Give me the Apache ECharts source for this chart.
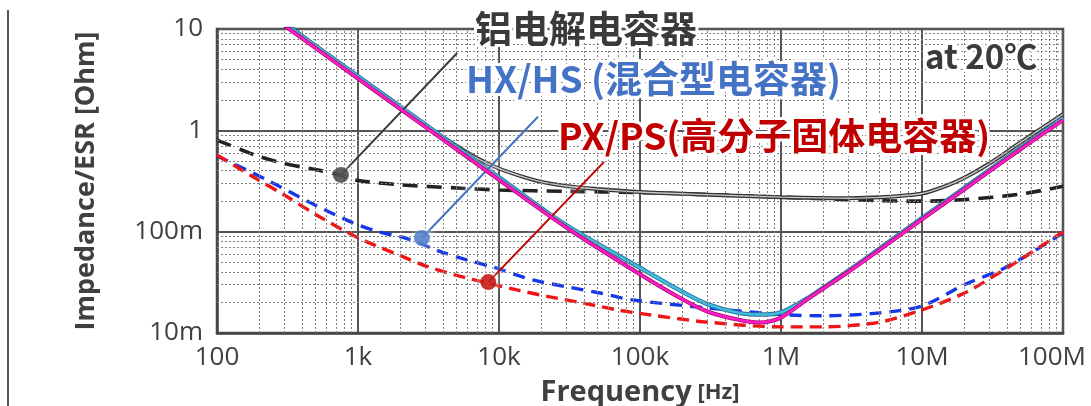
<!DOCTYPE html>
<html>
<head>
<meta charset="utf-8">
<script src="https://cdn.jsdelivr.net/npm/echarts@6/dist/echarts.min.js"></script>
<style>
  html, body { margin: 0; padding: 0; background: #fff; }
  #chart { width: 1091px; height: 406px; }
</style>
</head>
<body>
<div id="chart"></div>
<script>
// axis ticks
const xTickValues = [1e2, 1e3, 1e4, 1e5, 1e6, 1e7, 1e8];
const xTickLabels = ['100', '1k', '10k', '100k', '1M', '10M', '100M'];
const yTickValues = [0.01, 0.1, 1, 10];
const yTickLabels = ['10m', '100m', '1', '10'];

// aluminium electrolytic: impedance (solid) and ESR (dashed)
const alZFreq = [300, 1e3, 3e3, 5e3, 7e3, 1e4, 1.5e4, 2e4, 3e4, 5e4, 1e5, 3e5, 1e6, 3e6, 5e6, 1e7, 1.5e7, 2e7, 3e7, 5e7, 7e7, 1e8];
const alZ = [11.6, 3.3, 1.12, 0.70, 0.53, 0.42, 0.345, 0.31, 0.282, 0.263, 0.246, 0.232, 0.219, 0.214, 0.218, 0.238, 0.285, 0.34, 0.47, 0.76, 1.04, 1.44];
const alEsrFreq = [100, 150, 200, 300, 500, 700, 1e3, 2e3, 5e3, 1e4, 3e4, 1e5, 3e5, 1e6, 3e6, 5e6, 1e7, 2e7, 5e7, 1e8];
const alEsr = [0.80, 0.64, 0.55, 0.47, 0.41, 0.37, 0.32, 0.29, 0.27, 0.258, 0.25, 0.243, 0.232, 0.219, 0.207, 0.202, 0.200, 0.207, 0.235, 0.28];

// HX/HS hybrid
const hxZFreq = [300, 1e3, 3e3, 1e4, 3e4, 1e5, 2e5, 3e5, 5e5, 7e5, 1e6, 1.5e6, 2e6, 3e6, 5e6, 1e7, 2e7, 5e7, 1e8];
const hxZ = [11.4, 3.42, 1.14, 0.343, 0.116, 0.044, 0.0255, 0.0193, 0.0158, 0.0152, 0.0160, 0.0215, 0.028, 0.041, 0.068, 0.136, 0.27, 0.67, 1.32];
const hxEsrFreq = [100, 226, 435, 922, 1.43e3, 2.2e3, 3.8e3, 5.9e3, 9e3, 1.74e4, 3.05e4, 5.2e4, 8.9e4, 3e5, 1e6, 2e6, 5e6, 1e7, 2e7, 4e7, 1e8];
const hxEsr = [0.56, 0.324, 0.201, 0.122, 0.099, 0.086, 0.064, 0.0526, 0.0448, 0.0334, 0.0285, 0.0248, 0.0212, 0.0177, 0.0152, 0.0148, 0.0158, 0.0185, 0.030, 0.045, 0.097];

// PX/PS polymer
const pxZFreq = [300, 1e3, 3e3, 1e4, 3e4, 1e5, 2e5, 3e5, 5e5, 7e5, 1e6, 1.5e6, 2e6, 3e6, 5e6, 1e7, 2e7, 5e7, 1e8];
const pxZ = [10.8, 3.24, 1.08, 0.325, 0.110, 0.038, 0.0215, 0.0163, 0.0135, 0.0127, 0.0142, 0.021, 0.0275, 0.040, 0.066, 0.132, 0.262, 0.65, 1.26];
const pxEsrFreq = [100, 192, 300, 500, 1e3, 2e3, 3e3, 5e3, 8.4e3, 1.34e4, 2.3e4, 3.9e4, 6.9e4, 1.18e5, 3e5, 1e6, 2e6, 5e6, 1e7, 2e7, 4e7, 1e8];
const pxEsr = [0.57, 0.33, 0.23, 0.148, 0.087, 0.058, 0.046, 0.037, 0.031, 0.0266, 0.0227, 0.0198, 0.0169, 0.0151, 0.0128, 0.0115, 0.0115, 0.0128, 0.0169, 0.0248, 0.0438, 0.0995];

// leader lines: [dot, label end]
const leaderAl = [[757, 0.363], [5.05e3, 5.8]];
const leaderHx = [[2.84e3, 0.0867], [1.89e4, 1.36]];
const leaderPx = [[8.4e3, 0.0318], [5.56e4, 0.488]];

const minorSteps = [2, 3, 4, 5, 6, 7, 8, 9];

const pairs = (f, v) => f.map((x, i) => [x, v[i]]);
const tickText = (vals, labels) => function (v) {
    const i = vals.findIndex(t => Math.abs(Math.log10(t) - Math.log10(v)) < 1e-6);
    if (i < 0) return '';
    // last x label sits a little to the left so it stays inside the page
    return (i === vals.length - 1 && vals === xTickValues) ? '{last|' + labels[i] + '}' : labels[i];
};

const minorLines = [];
xTickValues.slice(0, -1).forEach(d => minorSteps.forEach(s => minorLines.push({ xAxis: d * s })));
yTickValues.slice(0, -1).forEach(d => minorSteps.forEach(s => minorLines.push({ yAxis: d * s })));

const labelFont = '"Noto Sans CJK SC", "Noto Sans", sans-serif';

function leader(name, pts, color) {
    return [{
        name: name,
        type: 'line',
        data: [],
        z: 6,
        silent: true,
        markLine: {
            silent: true,
            animation: false,
            symbol: 'none',
            label: { show: false },
            lineStyle: { color: color, width: 2, type: 'solid', shadowColor: '#fff', shadowBlur: 8 },
            emphasis: { disabled: true },
            data: [[{ coord: pts[0] }, { coord: pts[1] }]]
        }
    }, {
        name: name + ' dot',
        type: 'scatter',
        data: [pts[0]],
        z: 7,
        silent: true,
        symbol: 'circle',
        symbolSize: 16,
        itemStyle: { color: color, shadowColor: 'rgba(255,255,255,0.9)', shadowBlur: 8 }
    }];
}

function curve(name, data, color, width, type, z) {
    return {
        name: name,
        type: 'line',
        data: data,
        showSymbol: false,
        smooth: 0.3,
        z: z,
        silent: true,
        lineStyle: { color: color, width: width, type: type, cap: 'butt' }
    };
}

const chart = echarts.init(document.getElementById('chart'));

const option = {
    animation: false,
    grid: {
        left: 217, right: 28, top: 29, bottom: 73,
        outerBoundsMode: 'none',
        containLabel: false,
        show: true, borderColor: '#444', borderWidth: 2.5
    },
    xAxis: {
        type: 'log',
        logBase: 10,
        min: 100,
        max: 1e8,
        interval: 1,
        name: '{a|Frequency}{b| [Hz]}',
        nameLocation: 'middle',
        nameGap: 45,
        nameTextStyle: {
            rich: {
                a: { fontFamily: 'Open Sans', fontWeight: 'bold', fontSize: 29, color: '#404040' },
                b: { fontFamily: 'Open Sans', fontWeight: 'bold', fontSize: 22, color: '#404040' }
            }
        },
        axisLine: { lineStyle: { color: '#444', width: 2.5 } },
        axisTick: { show: false },
        axisLabel: {
            formatter: tickText(xTickValues, xTickLabels),
            fontFamily: 'Open Sans', fontSize: 26, color: '#404040', margin: 12,
            rich: { last: { fontFamily: 'Open Sans', fontSize: 26, color: '#404040', padding: [0, 22, 0, 0] } }
        },
        splitLine: { show: true, lineStyle: { color: '#555', width: 2 } }
    },
    yAxis: {
        type: 'log',
        logBase: 10,
        min: 0.01,
        max: 10,
        interval: 1,
        name: 'Impedance/ESR [Ohm]',
        nameLocation: 'middle',
        nameGap: 117,
        nameRotate: 90,
        nameTextStyle: { fontFamily: 'Open Sans', fontWeight: 'bold', fontSize: 27, color: '#404040' },
        axisLine: { lineStyle: { color: '#444', width: 2.5 } },
        axisTick: { show: false },
        axisLabel: {
            formatter: tickText(yTickValues, yTickLabels),
            fontFamily: 'Open Sans', fontSize: 26, color: '#404040', margin: 14
        },
        splitLine: { show: true, lineStyle: { color: '#555', width: 2 } }
    },
    series: [
        {
            name: 'minor',
            type: 'line',
            data: [],
            z: 1,
            silent: true,
            markLine: {
                silent: true,
                animation: false,
                symbol: 'none',
                label: { show: false },
                lineStyle: { color: '#808080', width: 1, type: [2, 2] },
                emphasis: { disabled: true },
                data: minorLines
            }
        },
        curve('Al ESR', pairs(alEsrFreq, alEsr), '#222', 3.6, [15, 9], 3),
        curve('HX ESR', pairs(hxEsrFreq, hxEsr), '#1438e8', 3.4, [12, 8], 3),
        curve('PX ESR', pairs(pxEsrFreq, pxEsr), '#f01414', 3.4, [12, 7], 3),
        curve('Al Z', pairs(alZFreq, alZ), '#333', 4, 'solid', 4),
        curve('Al Z inner', pairs(alZFreq, alZ), '#c8c8c8', 1.4, 'solid', 4),
        curve('HX Z', pairs(hxZFreq, hxZ), '#2a72b5', 4.5, 'solid', 4),
        curve('HX Z inner', pairs(hxZFreq, hxZ), '#3fc3d4', 2.5, 'solid', 4),
        curve('PX Z', pairs(pxZFreq, pxZ), '#a8105e', 4, 'solid', 5),
        curve('PX Z inner', pairs(pxZFreq, pxZ), '#ff1ad2', 2.4, 'solid', 5)
    ].concat(
        leader('Al leader', leaderAl, '#3a3a3a'),
        leader('HX leader', leaderHx, '#4472c4'),
        leader('PX leader', leaderPx, '#c00000')
    ),
    graphic: [
        {
            type: 'line', silent: true, z: 10,
            shape: { x1: 8, y1: 10, x2: 8, y2: 406 },
            style: { stroke: '#555', lineWidth: 2 }
        },
        {
            type: 'text', silent: true, z: 100, left: 472, top: 7,
            style: {
                text: '铝电解电容器', font: 'bold 37px ' + labelFont, fill: '#3a3a3a',
                stroke: '#fff', lineWidth: 6, shadowColor: '#fff', shadowBlur: 10
            }
        },
        {
            type: 'text', silent: true, z: 100, left: 463, top: 57,
            style: {
                text: 'HX/HS (混合型电容器)', font: 'bold 37px ' + labelFont, fill: '#4472c4',
                stroke: '#fff', lineWidth: 6, shadowColor: '#fff', shadowBlur: 10
            }
        },
        {
            type: 'text', silent: true, z: 100, left: 555, top: 114,
            style: {
                text: 'PX/PS(高分子固体电容器)', font: 'bold 37px ' + labelFont, fill: '#c00000',
                stroke: '#fff', lineWidth: 6, shadowColor: '#fff', shadowBlur: 10
            }
        },
        {
            type: 'text', silent: true, z: 100, left: 922, top: 37,
            style: {
                text: 'at 20℃', font: 'bold 33px ' + labelFont, fill: '#3a3a3a',
                stroke: '#fff', lineWidth: 6, shadowColor: '#fff', shadowBlur: 10
            }
        }
    ]
};

chart.setOption(option);
</script>
</body>
</html>
